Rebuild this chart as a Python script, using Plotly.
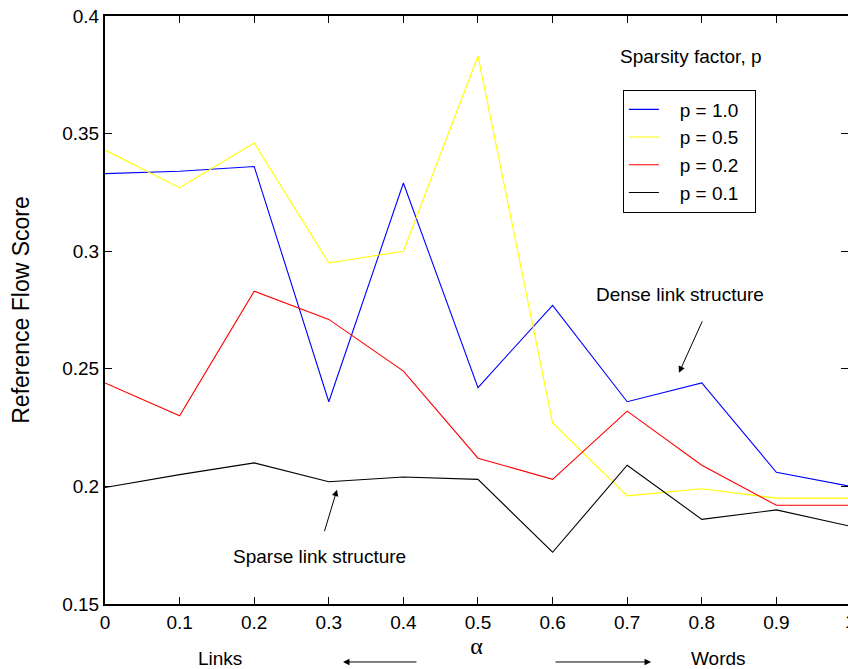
import plotly.graph_objects as go

alpha = [0.0, 0.1, 0.2, 0.3, 0.4, 0.5, 0.6, 0.7, 0.8, 0.9, 1.0]
p_1_0 = [0.333, 0.334, 0.336, 0.236, 0.329, 0.242, 0.277, 0.236, 0.244, 0.206, 0.200]
p_0_5 = [0.343, 0.327, 0.346, 0.295, 0.300, 0.383, 0.227, 0.196, 0.199, 0.195, 0.195]
p_0_2 = [0.244, 0.230, 0.283, 0.271, 0.249, 0.212, 0.203, 0.232, 0.209, 0.192, 0.192]
p_0_1 = [0.1995, 0.205, 0.210, 0.202, 0.204, 0.203, 0.172, 0.209, 0.186, 0.190, 0.183]

series = [
    ("p = 1.0", p_1_0, "#0000ff"),
    ("p = 0.5", p_0_5, "#ffff00"),
    ("p = 0.2", p_0_2, "#ff0000"),
    ("p = 0.1", p_0_1, "#000000"),
]

FONT = "Liberation Sans, Arial, Helvetica, sans-serif"
NB = "\u00a0"

fig = go.Figure()
for name, vals, color in series:
    fig.add_trace(go.Scatter(x=alpha, y=vals, mode="lines",
                             name=NB * 3 + name + NB * 2,
                             line=dict(color=color, width=1.1)))

axis_common = dict(showline=True, linecolor="black", linewidth=2, mirror="ticks",
                   ticks="inside", ticklen=7, tickwidth=1, tickcolor="black",
                   showgrid=False, zeroline=False,
                   tickfont=dict(family=FONT, size=19, color="black"))

fig.update_xaxes(range=[0, 0.996], tickmode="array",
                 tickvals=[0, 0.1, 0.2, 0.3, 0.4, 0.5, 0.6, 0.7, 0.8, 0.9],
                 ticktext=["0", "0.1", "0.2", "0.3", "0.4", "0.5", "0.6", "0.7", "0.8", "0.9"],
                 title=dict(text="α", font=dict(family="Liberation Serif, serif", size=24, color="black"),
                            standoff=2),
                 **axis_common)
fig.update_yaxes(range=[0.15, 0.4], tickmode="array",
                 tickvals=[0.15, 0.2, 0.25, 0.3, 0.35, 0.4],
                 ticktext=["0.15", "0.2", "0.25", "0.3", "0.35", "0.4"],
                 title=dict(text="Reference Flow Score", font=dict(family=FONT, size=23, color="black"),
                            standoff=26),
                 **axis_common)

annotations = [
    dict(x=1.004, y=-0.0306, xref="paper", yref="paper", text="1", showarrow=False,
         font=dict(family=FONT, size=19, color="black"), xanchor="center", yanchor="middle"),
    dict(x=0.7855, y=0.3826, xref="x", yref="y", text="Sparsity factor, p", showarrow=False,
         font=dict(family=FONT, size=19, color="black"), xanchor="center", yanchor="middle"),
    dict(x=0.7708, y=0.2814, xref="x", yref="y", text="Dense link structure", showarrow=False,
         font=dict(family=FONT, size=19, color="black"), xanchor="center", yanchor="middle"),
    dict(x=0.7694, y=0.2483, xref="x", yref="y", text="", showarrow=True, arrowhead=2,
         arrowsize=1.3, arrowwidth=1, arrowcolor="black", ax=24, ay=-53, standoff=0),
    dict(x=0.288, y=0.1703, xref="x", yref="y", text="Sparse link structure", showarrow=False,
         font=dict(family=FONT, size=19, color="black"), xanchor="center", yanchor="middle"),
    dict(x=0.311, y=0.1986, xref="x", yref="y", text="", showarrow=True, arrowhead=2,
         arrowsize=1.3, arrowwidth=1, arrowcolor="black", ax=-13, ay=43, standoff=0),
    dict(x=0.154, y=-0.093, xref="x", yref="paper", text="Links", showarrow=False,
         font=dict(family=FONT, size=19, color="black"), xanchor="center", yanchor="middle"),
    dict(x=0.822, y=-0.093, xref="x", yref="paper", text="Words", showarrow=False,
         font=dict(family=FONT, size=19, color="black"), xanchor="center", yanchor="middle"),
    dict(x=0.319, y=-0.0986, xref="x", yref="paper", text="", showarrow=True, arrowhead=2,
         arrowsize=1.3, arrowwidth=1, arrowcolor="black", ax=75, ay=0, standoff=0),
    dict(x=0.732, y=-0.0986, xref="x", yref="paper", text="", showarrow=True, arrowhead=2,
         arrowsize=1.3, arrowwidth=1, arrowcolor="black", ax=-97, ay=0, standoff=0),
]

fig.update_layout(
    width=848, height=669,
    margin=dict(l=105, r=0, t=16, b=65, autoexpand=False),
    paper_bgcolor="white", plot_bgcolor="white",
    font=dict(family=FONT, size=19, color="black"),
    legend=dict(x=0.697, y=0.875, xanchor="left", yanchor="top",
                bgcolor="white", bordercolor="black", borderwidth=1,
                font=dict(family=FONT, size=19, color="black")),
    annotations=annotations,
)

fig.write_html("out.html")
